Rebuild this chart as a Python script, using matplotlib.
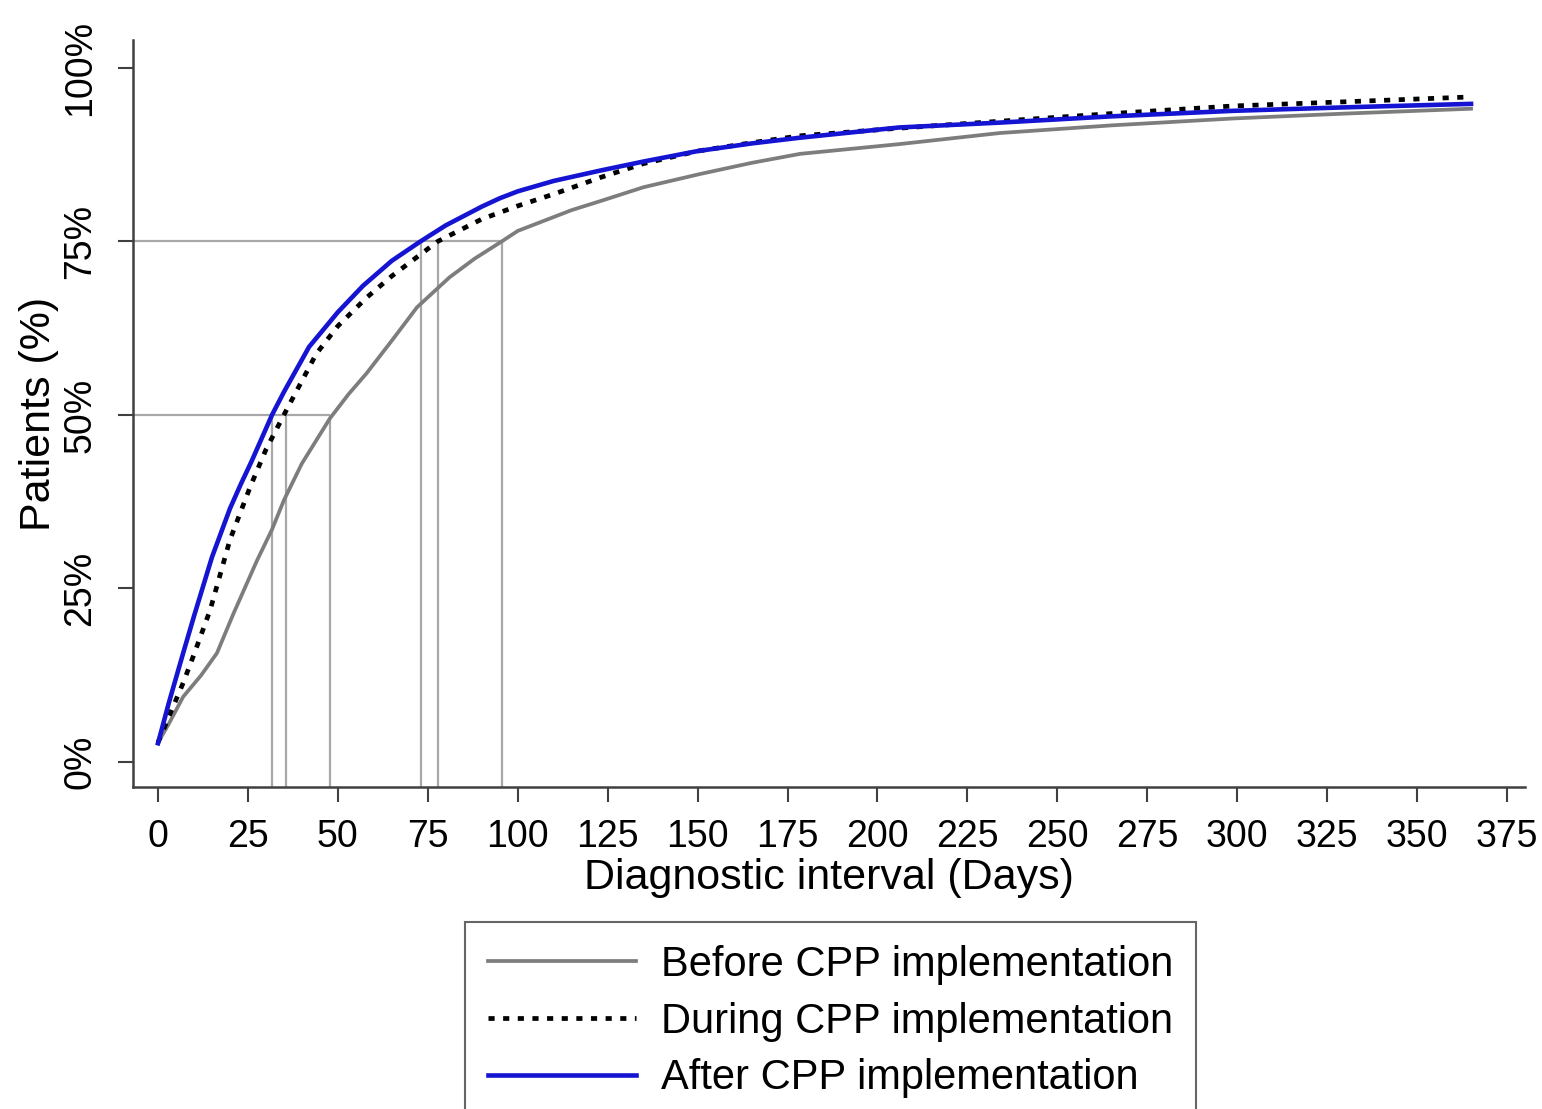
import matplotlib
matplotlib.use("Agg")
import matplotlib.pyplot as plt

plt.rcParams['font.family'] = ['Liberation Sans', 'DejaVu Sans']

days_before = [0, 3, 7, 12, 16.4, 21, 27.5, 31.7, 35, 40, 47.8, 53, 58, 65, 72, 81, 88, 95.6, 100, 109, 115, 123, 135, 150.7, 165, 178.5, 206, 234, 265, 299, 330, 365]
pct_before = [2.8, 5.5, 9.4, 12.5, 15.7, 21.4, 29, 33.5, 37.7, 43, 49.5, 53, 56, 60.7, 65.5, 69.8, 72.5, 75, 76.5, 78.3, 79.5, 80.8, 82.8, 84.7, 86.3, 87.6, 89, 90.6, 91.7, 92.7, 93.4, 94.1]

days_during = [0, 3, 7, 10, 14.5, 20, 25.6, 30, 35, 44, 50, 58, 65, 77.8, 90, 100, 110, 123, 135, 150, 165, 178.5, 206, 234, 265, 299, 330, 365]
pct_during = [2.8, 6.5, 11.4, 15.5, 21.9, 32, 39.6, 45, 50, 58.8, 62.8, 66.9, 70, 75, 78.2, 80.1, 81.8, 84.2, 86.2, 88, 89.2, 90.2, 91.3, 92.3, 93.4, 94.5, 95.1, 95.8]

days_after = [0, 3, 7, 10, 15, 20, 23, 26, 31.7, 35, 42, 50, 57, 65, 73, 80, 90, 95, 100, 110, 123, 135, 150, 165, 178, 206, 234, 265, 299, 330, 365]
pct_after = [2.7, 8.5, 15.7, 21, 29.5, 36.5, 40, 43.3, 50, 53.3, 59.8, 64.8, 68.6, 72.2, 75, 77.3, 80, 81.2, 82.2, 83.7, 85.2, 86.5, 88, 89.1, 89.9, 91.4, 92.1, 93, 93.8, 94.3, 94.8]

median_days = [31.7, 35.6, 47.8]
p75_days = [73, 77.8, 95.6]

xticks = list(range(0, 376, 25))
yticks = [0, 25, 50, 75, 100]
ytick_labels = ['0%', '25%', '50%', '75%', '100%']
labels = ['Before CPP implementation', 'During CPP implementation', 'After CPP implementation']

W, H = 1542, 1109
fig = plt.figure(figsize=(W / 100, H / 100), dpi=100)
ax = fig.add_axes([133 / W, 1 - 787 / H, (1525 - 133) / W, (787 - 40) / H])
xmin, xmax = -6.95, 380
ymin, ymax = -3.6, 104
ax.set_xlim(xmin, xmax)
ax.set_ylim(ymin, ymax)

refc = '#a8a8a8'
ax.hlines(50, xmin, max(median_days), color=refc, lw=1.6, zorder=1)
ax.hlines(75, xmin, max(p75_days), color=refc, lw=1.6, zorder=1)
ax.vlines(median_days, ymin, 50, color=refc, lw=1.6, zorder=1)
ax.vlines(p75_days, ymin, 75, color=refc, lw=1.6, zorder=1)

ax.plot(days_before, pct_before, color='#7d7d7d', lw=2.7, label=labels[0], zorder=2)
ax.plot(days_during, pct_during, color='black', lw=3.4, ls=(0, (1.3, 1.8)), label=labels[1], zorder=3)
ax.plot(days_after, pct_after, color='#1414d2', lw=3.3, label=labels[2], zorder=4)

for s in ['top', 'right']:
    ax.spines[s].set_visible(False)
for s in ['left', 'bottom']:
    ax.spines[s].set_color('#404040')
    ax.spines[s].set_linewidth(1.8)

ax.set_xticks(xticks)
ax.set_xticklabels([str(t) for t in xticks])
ax.set_yticks(yticks)
ax.set_yticklabels(ytick_labels, rotation=90, va='center')
ax.tick_params(axis='both', direction='out', length=11, width=1.5, color='#404040', labelsize=27)
ax.tick_params(axis='x', pad=12)
ax.tick_params(axis='y', pad=14)

ax.set_xlabel('Diagnostic interval (Days)', fontsize=31, labelpad=2)
ax.set_ylabel('Patients (%)', fontsize=31, labelpad=2)

leg = fig.legend(loc='upper left', bbox_to_anchor=(465 / W, 1 - 922 / H), ncol=1, fontsize=30,
                 frameon=True, fancybox=False, edgecolor='#404040', handlelength=3.55,
                 borderpad=0.55, labelspacing=0.4, handletextpad=0.6, borderaxespad=0)
leg.get_frame().set_linewidth(1.5)

fig.savefig('out.png', dpi=100)
